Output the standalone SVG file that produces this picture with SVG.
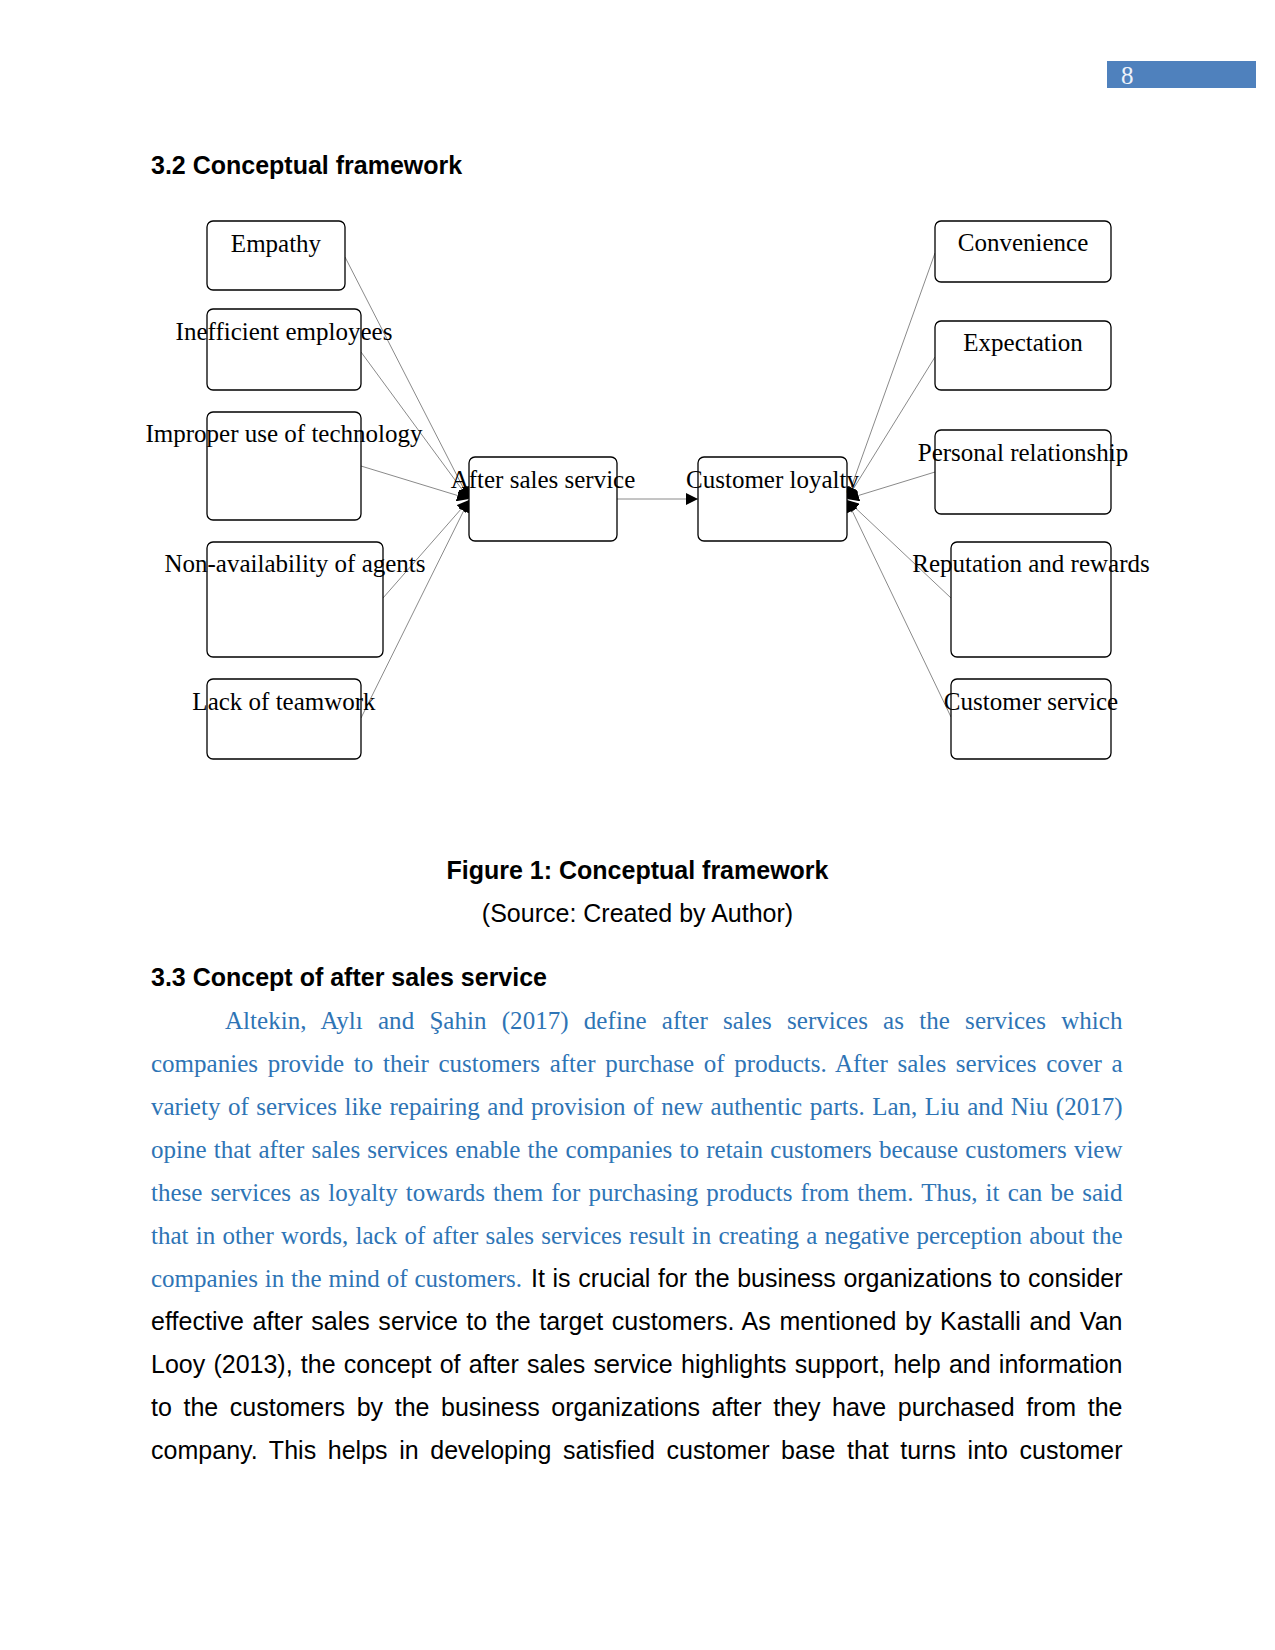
<svg xmlns="http://www.w3.org/2000/svg" width="1275" height="1650" viewBox="0 0 1275 1650">
<defs>
<style>
.box{fill:#fff;stroke:#000;stroke-width:1.3}
.lbl{font-family:"Liberation Serif","Times New Roman",serif;font-size:25px;fill:#000;text-anchor:middle}
.con{stroke:#8a8a8a;stroke-width:1;fill:none}
.hd{font-family:"Liberation Sans",Arial,sans-serif;font-size:25px;font-weight:bold;fill:#000}
.cap{font-family:"Liberation Sans",Arial,sans-serif;font-size:25px;fill:#000;text-anchor:middle}
.blue{font-family:"Liberation Serif","Times New Roman",serif;font-size:25px;fill:#2E74B5}
.blk{font-family:"Liberation Sans",Arial,sans-serif;font-size:25px;fill:#000}
</style>
<marker id="ah" markerUnits="userSpaceOnUse" markerWidth="12" markerHeight="12" refX="12" refY="6" orient="auto">
<path d="M0,0 L12,6 L0,12 z" fill="#000"/>
</marker>
</defs>
<rect width="1275" height="1650" fill="#fff"/>

<g id="page-number">
<rect x="1107" y="61" width="149" height="27" fill="#4F81BD"/>
<text x="1121" y="84" font-family="Liberation Serif,serif" font-size="25" fill="#EEF3FA">8</text>
</g>

<text class="hd" x="151" y="174">3.2 Conceptual framework</text>

<g id="connectors">
<line class="con" x1="345" y1="257" x2="469" y2="499" marker-end="url(#ah)"/>
<line class="con" x1="361" y1="352" x2="469" y2="499" marker-end="url(#ah)"/>
<line class="con" x1="361" y1="466" x2="469" y2="499" marker-end="url(#ah)"/>
<line class="con" x1="383" y1="598" x2="469" y2="500" marker-end="url(#ah)"/>
<line class="con" x1="361" y1="718" x2="469" y2="500" marker-end="url(#ah)"/>
<line class="con" x1="617" y1="499" x2="698" y2="499" marker-end="url(#ah)"/>
<line class="con" x1="935" y1="253" x2="847" y2="499" marker-end="url(#ah)"/>
<line class="con" x1="935" y1="357" x2="847" y2="499" marker-end="url(#ah)"/>
<line class="con" x1="935" y1="472" x2="847" y2="499" marker-end="url(#ah)"/>
<line class="con" x1="951" y1="598" x2="847" y2="500" marker-end="url(#ah)"/>
<line class="con" x1="951" y1="717" x2="847" y2="500" marker-end="url(#ah)"/>
</g>

<g id="empathy"><rect class="box" x="207" y="221" width="138" height="69" rx="6"/><text class="lbl" x="276" y="252">Empathy</text></g>
<g id="inefficient-employees"><rect class="box" x="207" y="309" width="154" height="81" rx="6"/><text class="lbl" x="284" y="340">Inefficient employees</text></g>
<g id="improper-use"><rect class="box" x="207" y="412" width="154" height="108" rx="6"/><text class="lbl" x="284" y="442">Improper use of technology</text></g>
<g id="non-availability"><rect class="box" x="207" y="542" width="176" height="115" rx="6"/><text class="lbl" x="295" y="572">Non-availability of agents</text></g>
<g id="lack-of-teamwork"><rect class="box" x="207" y="679" width="154" height="80" rx="6"/><text class="lbl" x="284" y="710">Lack of teamwork</text></g>
<g id="after-sales-service"><rect class="box" x="469" y="457" width="148" height="84" rx="6"/><text class="lbl" x="543" y="488">After sales service</text></g>
<g id="customer-loyalty"><rect class="box" x="698" y="457" width="149" height="84" rx="6"/><text class="lbl" x="772.5" y="488">Customer loyalty</text></g>
<g id="convenience"><rect class="box" x="935" y="221" width="176" height="61" rx="6"/><text class="lbl" x="1023" y="251">Convenience</text></g>
<g id="expectation"><rect class="box" x="935" y="321" width="176" height="69" rx="6"/><text class="lbl" x="1023" y="351">Expectation</text></g>
<g id="personal-relationship"><rect class="box" x="935" y="430" width="176" height="84" rx="6"/><text class="lbl" x="1023" y="461">Personal relationship</text></g>
<g id="reputation-rewards"><rect class="box" x="951" y="542" width="160" height="115" rx="6"/><text class="lbl" x="1031" y="572">Reputation and rewards</text></g>
<g id="customer-service"><rect class="box" x="951" y="679" width="160" height="80" rx="6"/><text class="lbl" x="1031" y="710">Customer service</text></g>

<text class="cap" x="637.5" y="879" font-weight="bold">Figure 1: Conceptual framework</text>
<text class="cap" x="637.5" y="922">(Source: Created by Author)</text>

<text class="hd" x="151" y="986">3.3 Concept of after sales service</text>

<text class="blue" x="225" y="1029" word-spacing="8.9" textLength="897.5" lengthAdjust="spacing">Altekin, Aylı and Şahin (2017) define after sales services as the services which</text>
<text class="blue" x="151" y="1072" word-spacing="3.4" textLength="971.5" lengthAdjust="spacing">companies provide to their customers after purchase of products. After sales services cover a</text>
<text class="blue" x="151" y="1115" word-spacing="1.3" textLength="971.5" lengthAdjust="spacing">variety of services like repairing and provision of new authentic parts. Lan, Liu and Niu (2017)</text>
<text class="blue" x="151" y="1158" word-spacing="1" textLength="971.5" lengthAdjust="spacing">opine that after sales services enable the companies to retain customers because customers view</text>
<text class="blue" x="151" y="1201" word-spacing="1.86" textLength="971.5" lengthAdjust="spacing">these services as loyalty towards them for purchasing products from them. Thus, it can be said</text>
<text class="blue" x="151" y="1244" word-spacing="1" textLength="971.5" lengthAdjust="spacing">that in other words, lack of after sales services result in creating a negative perception about the</text>
<text class="blue" x="151" y="1287" word-spacing="0.6" textLength="371" lengthAdjust="spacing">companies in the mind of customers.</text>
<text class="blk" x="531" y="1287" word-spacing="0.7" textLength="591.5" lengthAdjust="spacing">It is crucial for the business organizations to consider</text>
<text class="blk" x="151" y="1330" word-spacing="1.5" textLength="971.5" lengthAdjust="spacing">effective after sales service to the target customers. As mentioned by Kastalli and Van</text>
<text class="blk" x="151" y="1373" word-spacing="1.3" textLength="971.5" lengthAdjust="spacing">Looy (2013), the concept of after sales service highlights support, help and information</text>
<text class="blk" x="151" y="1416" word-spacing="4.65" textLength="971.5" lengthAdjust="spacing">to the customers by the business organizations after they have purchased from the</text>
<text class="blk" x="151" y="1459" word-spacing="4.57" textLength="971.5" lengthAdjust="spacing">company. This helps in developing satisfied customer base that turns into customer</text>
</svg>
